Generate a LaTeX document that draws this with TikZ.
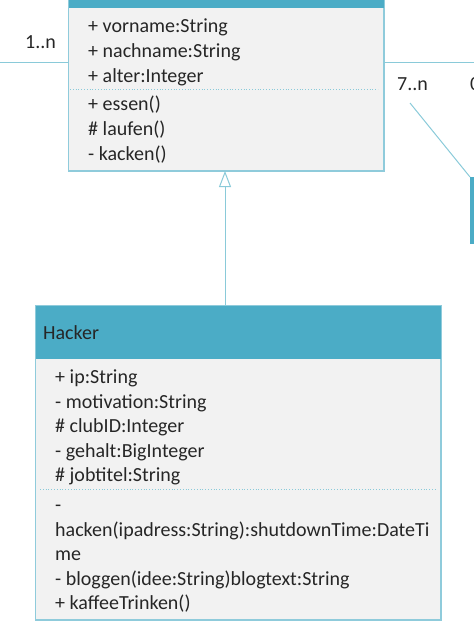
\documentclass[tikz,border=0pt]{standalone}
\usepackage{fontspec}
\setmainfont{Carlito}
\usetikzlibrary{arrows.meta}
\definecolor{headblue}{HTML}{4BACC6}
\definecolor{boxborder}{HTML}{8FCBDB}
\definecolor{boxfill}{HTML}{F2F2F2}
\definecolor{linkblue}{HTML}{8ACAD9}
\definecolor{txt}{HTML}{262626}
\tikzset{
  umlbox/.style={draw=boxborder, fill=boxfill, line width=1pt, inner sep=0pt, anchor=north west},
  txtline/.style={anchor=base west, inner sep=0pt, text=txt, font=\fontsize{20}{24}\selectfont},
  sepline/.style={draw=linkblue, dotted, line width=0.8pt},
  link/.style={draw=linkblue, line width=1pt},
}
\begin{document}
\begin{tikzpicture}[x=1pt, y=-1pt]
\useasboundingbox (0,0) rectangle (474,624);
\clip (0,0) rectangle (474,624);
% top class (Person)
\node[umlbox, minimum width=315pt, minimum height=210pt] (person) at (68,-40) {};
\fill[headblue] (person.north west) rectangle ([yshift=-48pt]person.north east);
\draw[draw=boxborder, line width=1pt] (person.north west) rectangle (person.south east);
\draw[sepline] (70,89) -- (378,89);
\node[txtline] (p1) at (88,32) {+ vorname:String};
\node[txtline] (p2) at (88,57) {+ nachname:String};
\node[txtline] (p3) at (88,82) {+ alter:Integer};
\node[txtline] (p4) at (88,110) {+ essen()};
\node[txtline] (p5) at (88,135) {\# laufen()};
\node[txtline] (p6) at (88,160) {- kacken()};
% Hacker class
\node[umlbox, minimum width=405pt, minimum height=314pt] (hacker) at (35,305) {};
\fill[headblue] (hacker.north west) rectangle ([yshift=-54pt]hacker.north east);
\draw[draw=boxborder, line width=1pt] (hacker.north west) rectangle (hacker.south east);
\draw[sepline] (40,489) -- (435,489);
\node[txtline] (hname) at (43,339) {Hacker};
\node[txtline] (h1) at (55,383) {+ ip:String};
\node[txtline] (h2) at (55,408) {- motivation:String};
\node[txtline] (h3) at (55,432) {\# clubID:Integer};
\node[txtline] (h4) at (55,457) {- gehalt:BigInteger};
\node[txtline] (h5) at (55,481) {\# jobtitel:String};
\node[txtline] (h6) at (55,511) {-};
\node[txtline] (h7) at (55,536) {hacken(ipadress:String):shutdownTime:DateTi};
\node[txtline] (h8) at (55,560) {me};
\node[txtline] (h9) at (55,585) {- bloggen(idee:String)blogtext:String};
\node[txtline] (h10) at (55,609) {+ kaffeeTrinken()};
% partial class at the right edge
\node[draw=headblue, fill=headblue, inner sep=0pt, minimum width=40pt, minimum height=66pt, anchor=north west] (rbox) at (470,177) {};
% connectors
\coordinate (lend) at (0,62);
\coordinate (rend) at (474,62);
\coordinate (dstart) at (410,103);
\draw[link] (lend) -- (lend -| person.west);
\draw[link] (rend -| person.east) -- (rend);
\draw[link] (dstart) -- (rbox.north west);
\draw[link, -{Triangle[open, length=16pt, width=12pt, fill=white]}] (hacker.north -| 225,0) -- (person.south -| 225,0);
% multiplicities
\node[txtline] (m1) at (25,48) {1..n};
\node[txtline] (m2) at (397,90) {7..n};
\node[txtline] (m3) at (470,90) {0};
\end{tikzpicture}
\end{document}
